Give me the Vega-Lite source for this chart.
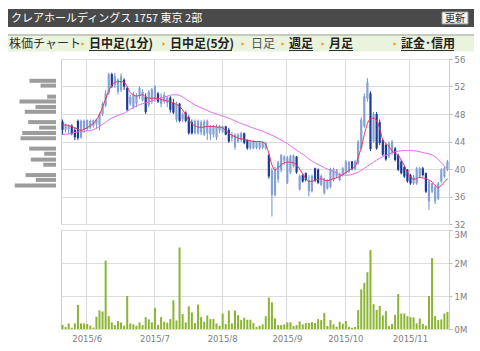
{
  "$schema": "https://vega.github.io/schema/vega-lite/v6.json",
  "background": "#ffffff",
  "padding": {"left": 7, "top": 9, "right": 0, "bottom": 0},
  "config": {
    "view": {"stroke": "#cccccc"},
    "axis": {"labelFont": "DejaVu Sans", "labelFontSize": 8.5, "labelColor": "#808080", "gridColor": "#dddddd", "domain": false, "ticks": false}
  },
  "datasets": {
    "px": [
      {"d":"2015-05-20","o":46.9,"h":47.2,"l":45.0,"c":45.7,"v":120000,"m5":46.4,"m25":45.0},
      {"d":"2015-05-21","o":45.7,"h":46.6,"l":45.3,"c":46.4,"v":60000,"m5":46.4,"m25":45.05},
      {"d":"2015-05-22","o":45.8,"h":46.5,"l":45.0,"c":46.3,"v":170000,"m5":46.3,"m25":45.1},
      {"d":"2015-05-25","o":46.3,"h":46.5,"l":44.9,"c":45.1,"v":40000,"m5":46.2,"m25":45.2},
      {"d":"2015-05-26","o":45.7,"h":46.0,"l":44.2,"c":44.6,"v":170000,"m5":46.0,"m25":45.3},
      {"d":"2015-05-27","o":47.0,"h":47.2,"l":44.2,"c":44.5,"v":730000,"m5":45.8,"m25":45.4},
      {"d":"2015-05-28","o":44.6,"h":47.2,"l":44.4,"c":47.0,"v":170000,"m5":45.6,"m25":45.45},
      {"d":"2015-05-29","o":45.7,"h":47.2,"l":45.3,"c":47.0,"v":170000,"m5":45.8,"m25":45.5},
      {"d":"2015-06-01","o":45.8,"h":47.2,"l":45.5,"c":47.1,"v":150000,"m5":46.0,"m25":45.55},
      {"d":"2015-06-02","o":46.0,"h":47.2,"l":45.8,"c":47.0,"v":100000,"m5":46.3,"m25":45.6},
      {"d":"2015-06-03","o":46.3,"h":47.2,"l":46.0,"c":47.1,"v":40000,"m5":46.6,"m25":45.7},
      {"d":"2015-06-04","o":46.5,"h":47.3,"l":45.8,"c":47.2,"v":370000,"m5":47.2,"m25":45.9},
      {"d":"2015-06-05","o":46.4,"h":48.2,"l":45.6,"c":48.0,"v":560000,"m5":47.9,"m25":46.2},
      {"d":"2015-06-08","o":48.0,"h":49.8,"l":47.7,"c":49.5,"v":530000,"m5":49.0,"m25":46.5},
      {"d":"2015-06-09","o":49.2,"h":51.5,"l":49.0,"c":51.0,"v":2070000,"m5":50.2,"m25":46.8},
      {"d":"2015-06-10","o":51.0,"h":54.0,"l":50.8,"c":53.8,"v":390000,"m5":51.3,"m25":47.15},
      {"d":"2015-06-11","o":53.8,"h":54.0,"l":51.8,"c":52.0,"v":200000,"m5":52.2,"m25":47.4},
      {"d":"2015-06-12","o":52.2,"h":54.0,"l":51.8,"c":53.5,"v":120000,"m5":52.6,"m25":47.6},
      {"d":"2015-06-15","o":51.2,"h":53.2,"l":50.8,"c":53.0,"v":240000,"m5":52.7,"m25":47.8},
      {"d":"2015-06-16","o":51.5,"h":53.9,"l":51.2,"c":53.5,"v":200000,"m5":52.7,"m25":48.0},
      {"d":"2015-06-17","o":53.0,"h":53.2,"l":51.5,"c":52.0,"v":100000,"m5":52.6,"m25":48.1},
      {"d":"2015-06-18","o":51.8,"h":52.0,"l":48.4,"c":48.6,"v":1000000,"m5":52.0,"m25":48.4},
      {"d":"2015-06-19","o":49.5,"h":50.8,"l":49.2,"c":50.5,"v":170000,"m5":51.1,"m25":48.7},
      {"d":"2015-06-22","o":49.0,"h":51.2,"l":48.8,"c":50.8,"v":140000,"m5":50.8,"m25":48.9},
      {"d":"2015-06-23","o":49.5,"h":51.0,"l":49.0,"c":50.6,"v":100000,"m5":50.6,"m25":49.2},
      {"d":"2015-06-24","o":50.6,"h":52.0,"l":50.2,"c":51.8,"v":200000,"m5":50.7,"m25":49.35},
      {"d":"2015-06-25","o":50.0,"h":51.6,"l":49.8,"c":51.2,"v":120000,"m5":50.8,"m25":49.5},
      {"d":"2015-06-26","o":50.5,"h":51.0,"l":48.0,"c":48.3,"v":360000,"m5":50.5,"m25":49.6},
      {"d":"2015-06-29","o":49.3,"h":51.5,"l":49.0,"c":51.2,"v":290000,"m5":50.3,"m25":49.75},
      {"d":"2015-06-30","o":49.8,"h":51.8,"l":49.5,"c":51.6,"v":200000,"m5":50.3,"m25":49.9},
      {"d":"2015-07-01","o":50.2,"h":52.2,"l":49.8,"c":52.0,"v":640000,"m5":50.3,"m25":50.05},
      {"d":"2015-07-02","o":51.0,"h":51.2,"l":49.6,"c":49.8,"v":120000,"m5":50.3,"m25":50.2},
      {"d":"2015-07-03","o":49.5,"h":51.0,"l":49.0,"c":50.5,"v":360000,"m5":50.1,"m25":50.3},
      {"d":"2015-07-06","o":49.8,"h":51.2,"l":49.5,"c":50.8,"v":220000,"m5":50.0,"m25":50.45},
      {"d":"2015-07-07","o":49.6,"h":50.6,"l":49.0,"c":50.4,"v":190000,"m5":49.9,"m25":50.6},
      {"d":"2015-07-08","o":50.4,"h":50.6,"l":48.2,"c":48.6,"v":300000,"m5":49.8,"m25":50.75},
      {"d":"2015-07-09","o":49.6,"h":50.2,"l":48.0,"c":48.2,"v":870000,"m5":49.6,"m25":50.8},
      {"d":"2015-07-10","o":47.2,"h":49.8,"l":46.8,"c":49.5,"v":260000,"m5":49.4,"m25":50.8},
      {"d":"2015-07-13","o":49.5,"h":49.6,"l":46.8,"c":47.0,"v":2470000,"m5":49.1,"m25":50.7},
      {"d":"2015-07-14","o":47.2,"h":48.2,"l":46.8,"c":48.0,"v":450000,"m5":48.6,"m25":50.5},
      {"d":"2015-07-15","o":48.2,"h":48.4,"l":46.8,"c":47.0,"v":200000,"m5":47.9,"m25":50.2},
      {"d":"2015-07-16","o":47.5,"h":47.8,"l":45.0,"c":45.2,"v":690000,"m5":47.1,"m25":49.9},
      {"d":"2015-07-17","o":46.8,"h":47.2,"l":45.0,"c":45.2,"v":500000,"m5":46.6,"m25":49.6},
      {"d":"2015-07-21","o":45.2,"h":47.2,"l":45.0,"c":47.0,"v":180000,"m5":46.3,"m25":49.3},
      {"d":"2015-07-22","o":45.2,"h":47.2,"l":45.0,"c":47.0,"v":740000,"m5":46.1,"m25":49.1},
      {"d":"2015-07-23","o":45.3,"h":47.1,"l":44.9,"c":46.8,"v":360000,"m5":46.05,"m25":48.9},
      {"d":"2015-07-24","o":45.0,"h":47.2,"l":44.8,"c":46.9,"v":220000,"m5":46.1,"m25":48.7},
      {"d":"2015-07-27","o":45.2,"h":47.2,"l":44.2,"c":47.0,"v":410000,"m5":46.2,"m25":48.5},
      {"d":"2015-07-28","o":45.0,"h":46.4,"l":44.2,"c":46.2,"v":300000,"m5":46.2,"m25":48.3},
      {"d":"2015-07-29","o":45.0,"h":46.4,"l":44.6,"c":46.3,"v":300000,"m5":46.2,"m25":48.15},
      {"d":"2015-07-30","o":44.6,"h":46.5,"l":44.2,"c":46.2,"v":170000,"m5":46.1,"m25":48.0},
      {"d":"2015-07-31","o":45.6,"h":46.4,"l":45.2,"c":46.2,"v":100000,"m5":46.1,"m25":47.85},
      {"d":"2015-08-03","o":45.4,"h":46.3,"l":45.2,"c":46.2,"v":470000,"m5":46.0,"m25":47.7},
      {"d":"2015-08-04","o":46.2,"h":46.3,"l":44.9,"c":45.0,"v":150000,"m5":45.6,"m25":47.55},
      {"d":"2015-08-05","o":45.7,"h":46.0,"l":43.8,"c":44.0,"v":560000,"m5":45.2,"m25":47.4},
      {"d":"2015-08-06","o":44.5,"h":45.4,"l":44.0,"c":45.0,"v":170000,"m5":44.9,"m25":47.2},
      {"d":"2015-08-07","o":43.2,"h":45.2,"l":42.8,"c":45.0,"v":560000,"m5":44.7,"m25":47.0},
      {"d":"2015-08-10","o":44.0,"h":45.2,"l":43.8,"c":45.0,"v":420000,"m5":44.5,"m25":46.8},
      {"d":"2015-08-11","o":44.2,"h":45.4,"l":43.9,"c":45.2,"v":270000,"m5":44.4,"m25":46.6},
      {"d":"2015-08-12","o":45.2,"h":45.3,"l":43.6,"c":43.8,"v":340000,"m5":44.3,"m25":46.45},
      {"d":"2015-08-13","o":44.2,"h":44.3,"l":42.8,"c":43.0,"v":280000,"m5":44.2,"m25":46.3},
      {"d":"2015-08-14","o":43.0,"h":44.2,"l":42.8,"c":44.0,"v":280000,"m5":44.1,"m25":46.1},
      {"d":"2015-08-17","o":43.0,"h":44.2,"l":42.9,"c":44.0,"v":180000,"m5":44.0,"m25":45.95},
      {"d":"2015-08-18","o":43.1,"h":44.0,"l":42.9,"c":43.9,"v":60000,"m5":44.0,"m25":45.8},
      {"d":"2015-08-19","o":43.0,"h":44.0,"l":42.8,"c":43.9,"v":100000,"m5":44.0,"m25":45.65},
      {"d":"2015-08-20","o":43.1,"h":44.0,"l":42.9,"c":43.9,"v":140000,"m5":43.9,"m25":45.5},
      {"d":"2015-08-21","o":43.0,"h":43.9,"l":42.8,"c":43.8,"v":390000,"m5":43.5,"m25":45.3},
      {"d":"2015-08-24","o":42.0,"h":42.2,"l":38.6,"c":38.9,"v":950000,"m5":42.3,"m25":45.1},
      {"d":"2015-08-25","o":36.2,"h":40.2,"l":33.1,"c":39.8,"v":810000,"m5":40.6,"m25":44.9},
      {"d":"2015-08-26","o":36.2,"h":40.3,"l":36.0,"c":40.0,"v":320000,"m5":39.9,"m25":44.7},
      {"d":"2015-08-27","o":38.5,"h":41.2,"l":38.0,"c":41.0,"v":120000,"m5":40.2,"m25":44.45},
      {"d":"2015-08-28","o":39.8,"h":42.2,"l":39.5,"c":42.0,"v":120000,"m5":40.6,"m25":44.2},
      {"d":"2015-08-31","o":41.2,"h":42.0,"l":40.6,"c":41.8,"v":140000,"m5":40.9,"m25":43.95},
      {"d":"2015-09-01","o":38.0,"h":41.9,"l":37.8,"c":41.6,"v":200000,"m5":41.0,"m25":43.7},
      {"d":"2015-09-02","o":39.5,"h":42.1,"l":39.3,"c":41.9,"v":200000,"m5":41.0,"m25":43.4},
      {"d":"2015-09-03","o":40.4,"h":42.1,"l":40.2,"c":42.0,"v":90000,"m5":40.9,"m25":43.05},
      {"d":"2015-09-04","o":41.8,"h":41.9,"l":39.3,"c":39.5,"v":120000,"m5":40.6,"m25":42.75},
      {"d":"2015-09-07","o":37.0,"h":39.2,"l":36.9,"c":39.0,"v":230000,"m5":40.0,"m25":42.45},
      {"d":"2015-09-08","o":39.1,"h":39.3,"l":38.0,"c":38.2,"v":140000,"m5":39.3,"m25":42.15},
      {"d":"2015-09-09","o":39.4,"h":39.5,"l":38.2,"c":38.4,"v":180000,"m5":38.6,"m25":41.85},
      {"d":"2015-09-10","o":36.8,"h":39.1,"l":36.0,"c":38.4,"v":180000,"m5":38.2,"m25":41.45},
      {"d":"2015-09-11","o":36.8,"h":39.2,"l":36.6,"c":39.0,"v":210000,"m5":38.2,"m25":41.15},
      {"d":"2015-09-14","o":40.1,"h":40.2,"l":38.1,"c":38.3,"v":180000,"m5":38.4,"m25":40.9},
      {"d":"2015-09-15","o":39.9,"h":40.1,"l":37.8,"c":38.0,"v":300000,"m5":38.5,"m25":40.65},
      {"d":"2015-09-16","o":37.7,"h":39.2,"l":37.5,"c":39.0,"v":270000,"m5":38.6,"m25":40.45},
      {"d":"2015-09-17","o":36.5,"h":38.7,"l":36.3,"c":38.5,"v":490000,"m5":38.4,"m25":40.2},
      {"d":"2015-09-18","o":37.2,"h":38.5,"l":37.0,"c":38.3,"v":90000,"m5":38.3,"m25":40.0},
      {"d":"2015-09-24","o":37.4,"h":40.2,"l":37.2,"c":40.0,"v":270000,"m5":38.4,"m25":39.8},
      {"d":"2015-09-25","o":38.4,"h":40.2,"l":38.2,"c":40.0,"v":140000,"m5":38.6,"m25":39.6},
      {"d":"2015-09-28","o":38.9,"h":40.0,"l":38.7,"c":39.8,"v":70000,"m5":38.7,"m25":39.4},
      {"d":"2015-09-29","o":38.4,"h":39.5,"l":38.2,"c":39.3,"v":220000,"m5":38.9,"m25":39.2},
      {"d":"2015-09-30","o":39.1,"h":40.3,"l":38.9,"c":40.1,"v":160000,"m5":39.2,"m25":39.15},
      {"d":"2015-10-01","o":39.4,"h":41.3,"l":39.2,"c":41.1,"v":240000,"m5":39.5,"m25":39.1},
      {"d":"2015-10-02","o":39.6,"h":41.2,"l":39.4,"c":41.0,"v":60000,"m5":39.8,"m25":39.1},
      {"d":"2015-10-05","o":41.1,"h":41.2,"l":39.8,"c":40.0,"v":40000,"m5":40.1,"m25":39.2},
      {"d":"2015-10-06","o":40.0,"h":41.3,"l":39.8,"c":41.1,"v":60000,"m5":40.3,"m25":39.35},
      {"d":"2015-10-07","o":40.8,"h":44.2,"l":40.6,"c":44.0,"v":580000,"m5":41.7,"m25":39.55},
      {"d":"2015-10-08","o":43.0,"h":47.5,"l":42.8,"c":47.2,"v":1200000,"m5":43.1,"m25":39.8},
      {"d":"2015-10-09","o":46.2,"h":51.0,"l":46.0,"c":50.6,"v":1400000,"m5":45.0,"m25":40.1},
      {"d":"2015-10-13","o":50.2,"h":53.2,"l":49.8,"c":52.6,"v":1720000,"m5":46.6,"m25":40.4},
      {"d":"2015-10-14","o":51.0,"h":51.3,"l":42.6,"c":42.9,"v":2390000,"m5":47.3,"m25":40.7},
      {"d":"2015-10-15","o":44.0,"h":48.3,"l":43.8,"c":48.0,"v":750000,"m5":47.4,"m25":41.0},
      {"d":"2015-10-16","o":48.0,"h":48.3,"l":42.8,"c":43.0,"v":580000,"m5":47.0,"m25":41.3},
      {"d":"2015-10-19","o":46.8,"h":47.2,"l":43.5,"c":43.8,"v":700000,"m5":45.9,"m25":41.55},
      {"d":"2015-10-20","o":44.2,"h":44.4,"l":41.9,"c":42.1,"v":410000,"m5":44.2,"m25":41.8},
      {"d":"2015-10-21","o":43.5,"h":43.7,"l":41.2,"c":41.4,"v":540000,"m5":43.7,"m25":42.0},
      {"d":"2015-10-22","o":41.8,"h":44.0,"l":41.6,"c":43.7,"v":90000,"m5":43.3,"m25":42.2},
      {"d":"2015-10-23","o":42.3,"h":44.2,"l":42.1,"c":44.0,"v":150000,"m5":42.6,"m25":42.35},
      {"d":"2015-10-26","o":43.0,"h":43.2,"l":41.1,"c":41.3,"v":430000,"m5":42.3,"m25":42.5},
      {"d":"2015-10-27","o":42.0,"h":42.2,"l":39.7,"c":39.9,"v":1060000,"m5":42.0,"m25":42.6},
      {"d":"2015-10-28","o":41.1,"h":41.3,"l":39.2,"c":39.4,"v":470000,"m5":41.3,"m25":42.65},
      {"d":"2015-10-29","o":40.3,"h":40.5,"l":38.7,"c":38.9,"v":470000,"m5":40.5,"m25":42.7},
      {"d":"2015-10-30","o":39.9,"h":40.0,"l":38.0,"c":38.2,"v":390000,"m5":39.5,"m25":42.7},
      {"d":"2015-11-02","o":39.1,"h":39.3,"l":37.7,"c":37.9,"v":360000,"m5":38.9,"m25":42.7},
      {"d":"2015-11-04","o":37.9,"h":39.1,"l":37.7,"c":38.9,"v":350000,"m5":38.5,"m25":42.65},
      {"d":"2015-11-05","o":37.9,"h":40.3,"l":37.7,"c":40.1,"v":170000,"m5":38.6,"m25":42.6},
      {"d":"2015-11-06","o":38.9,"h":40.3,"l":38.7,"c":40.1,"v":320000,"m5":38.8,"m25":42.5},
      {"d":"2015-11-09","o":40.1,"h":40.3,"l":38.9,"c":39.1,"v":150000,"m5":38.7,"m25":42.4},
      {"d":"2015-11-10","o":39.4,"h":39.5,"l":36.5,"c":36.7,"v":100000,"m5":38.6,"m25":42.3},
      {"d":"2015-11-11","o":35.3,"h":38.4,"l":34.0,"c":38.2,"v":1000000,"m5":38.4,"m25":42.2},
      {"d":"2015-11-12","o":36.7,"h":38.0,"l":36.5,"c":37.9,"v":2150000,"m5":38.1,"m25":42.05},
      {"d":"2015-11-13","o":35.3,"h":37.6,"l":34.9,"c":37.4,"v":390000,"m5":37.6,"m25":41.8},
      {"d":"2015-11-16","o":35.7,"h":38.1,"l":35.5,"c":37.9,"v":270000,"m5":37.3,"m25":41.4},
      {"d":"2015-11-17","o":38.2,"h":40.1,"l":38.0,"c":39.9,"v":290000,"m5":37.6,"m25":40.9},
      {"d":"2015-11-18","o":38.9,"h":40.3,"l":38.7,"c":40.1,"v":470000,"m5":38.1,"m25":40.4},
      {"d":"2015-11-19","o":39.9,"h":41.3,"l":39.7,"c":41.1,"v":520000,"m5":38.6,"m25":40.1}
    ],
    "hist": [
      {"p":53.4,"q":265},{"p":52.65,"q":155},{"p":50.95,"q":88},{"p":50.2,"q":365},
      {"p":49.35,"q":205},{"p":48.6,"q":312},{"p":47.0,"q":278},{"p":46.15,"q":168},
      {"p":45.3,"q":338},{"p":44.5,"q":355},{"p":42.9,"q":268},{"p":42.1,"q":118},
      {"p":41.2,"q":252},{"p":40.4,"q":128},{"p":38.8,"q":305},{"p":38.05,"q":202},
      {"p":37.2,"q":412}
    ]
  },
  "vconcat": [
    {
      "width": 466, "height": 18,
      "view": {"fill": "#4a4a4a", "stroke": null},
      "data": {"values": [{}]},
      "layer": [
        {"mark": {"type": "text", "text": "クレアホールディングス 1757 東京 2部", "font": "Noto Sans CJK JP", "fontSize": 11, "color": "#ffffff", "align": "left", "baseline": "middle"},
         "encoding": {"x": {"value": 3}, "y": {"value": 9.5}}},
        {"mark": {"type": "rect", "fill": "#f5f5f5", "stroke": "#999999", "strokeWidth": 1},
         "encoding": {"x": {"value": 434}, "x2": {"value": 460}, "y": {"value": 3}, "y2": {"value": 15}}},
        {"mark": {"type": "text", "text": "更新", "font": "Noto Sans CJK JP", "fontSize": 10, "color": "#222222", "align": "center", "baseline": "middle"},
         "encoding": {"x": {"value": 447}, "y": {"value": 9.5}}}
      ]
    },
    {
      "width": 466, "height": 17,
      "view": {"fill": "#eaf3dd", "stroke": null},
      "data": {"values": [{}]},
      "layer": [
        {"mark": {"type": "rule", "color": "#c4cbbd", "strokeWidth": 2}, "encoding": {"x": {"value": 0}, "x2": {"value": 466}, "y": {"value": 0.5}}},
        {"mark": {"type": "text", "text": "株価チャート", "font": "Noto Sans CJK JP", "fontSize": 12, "color": "#333333", "align": "left", "baseline": "middle"}, "encoding": {"x": {"value": 1}, "y": {"value": 9.5}}},
        {"mark": {"type": "point", "shape": "triangle-right", "filled": true, "size": 14, "color": "#f29b1d", "opacity": 1}, "encoding": {"x": {"value": 75}, "y": {"value": 9.5}}},
        {"mark": {"type": "point", "shape": "triangle-right", "filled": true, "size": 14, "color": "#f29b1d", "opacity": 1}, "encoding": {"x": {"value": 156}, "y": {"value": 9.5}}},
        {"mark": {"type": "point", "shape": "triangle-right", "filled": true, "size": 14, "color": "#f29b1d", "opacity": 1}, "encoding": {"x": {"value": 235}, "y": {"value": 9.5}}},
        {"mark": {"type": "point", "shape": "triangle-right", "filled": true, "size": 14, "color": "#f29b1d", "opacity": 1}, "encoding": {"x": {"value": 275}, "y": {"value": 9.5}}},
        {"mark": {"type": "point", "shape": "triangle-right", "filled": true, "size": 14, "color": "#f29b1d", "opacity": 1}, "encoding": {"x": {"value": 315}, "y": {"value": 9.5}}},
        {"mark": {"type": "point", "shape": "triangle-right", "filled": true, "size": 14, "color": "#f29b1d", "opacity": 1}, "encoding": {"x": {"value": 387}, "y": {"value": 9.5}}},
        {"mark": {"type": "text", "text": "日中足(1分)", "font": "Noto Sans CJK JP", "fontSize": 12, "fontWeight": "bold", "color": "#222222", "align": "left", "baseline": "middle"}, "encoding": {"x": {"value": 81}, "y": {"value": 9.5}}},
        {"mark": {"type": "text", "text": "日中足(5分)", "font": "Noto Sans CJK JP", "fontSize": 12, "fontWeight": "bold", "color": "#222222", "align": "left", "baseline": "middle"}, "encoding": {"x": {"value": 162}, "y": {"value": 9.5}}},
        {"mark": {"type": "text", "text": "日足", "font": "Noto Sans CJK JP", "fontSize": 12, "color": "#555555", "align": "left", "baseline": "middle"}, "encoding": {"x": {"value": 243}, "y": {"value": 9.5}}},
        {"mark": {"type": "text", "text": "週足", "font": "Noto Sans CJK JP", "fontSize": 12, "fontWeight": "bold", "color": "#222222", "align": "left", "baseline": "middle"}, "encoding": {"x": {"value": 281}, "y": {"value": 9.5}}},
        {"mark": {"type": "text", "text": "月足", "font": "Noto Sans CJK JP", "fontSize": 12, "fontWeight": "bold", "color": "#222222", "align": "left", "baseline": "middle"}, "encoding": {"x": {"value": 321}, "y": {"value": 9.5}}},
        {"mark": {"type": "text", "text": "証金･信用", "font": "Noto Sans CJK JP", "fontSize": 12, "fontWeight": "bold", "color": "#222222", "align": "left", "baseline": "middle"}, "encoding": {"x": {"value": 393}, "y": {"value": 9.5}}},
        {"mark": {"type": "rule", "color": "#333333", "strokeWidth": 1}, "encoding": {"x": {"value": 81}, "x2": {"value": 143}, "y": {"value": 16}}},
        {"mark": {"type": "rule", "color": "#333333", "strokeWidth": 1}, "encoding": {"x": {"value": 162}, "x2": {"value": 224}, "y": {"value": 16}}},
        {"mark": {"type": "rule", "color": "#333333", "strokeWidth": 1}, "encoding": {"x": {"value": 281}, "x2": {"value": 305}, "y": {"value": 16}}},
        {"mark": {"type": "rule", "color": "#333333", "strokeWidth": 1}, "encoding": {"x": {"value": 321}, "x2": {"value": 345}, "y": {"value": 16}}},
        {"mark": {"type": "rule", "color": "#333333", "strokeWidth": 1}, "encoding": {"x": {"value": 393}, "x2": {"value": 446}, "y": {"value": 16}}}
      ]
    },
    {
      "hconcat": [
        {
          "width": 48, "height": 165,
          "view": {"stroke": null},
          "data": {"name": "hist"},
          "mark": {"type": "bar", "orient": "horizontal", "size": 4, "color": "#9c9c9c"},
          "encoding": {
            "y": {"field": "p", "type": "quantitative", "scale": {"domain": [32, 56], "zero": false, "nice": false}, "axis": null},
            "x": {"field": "q", "type": "quantitative", "scale": {"domain": [0, 480], "reverse": true, "nice": false}, "axis": null}
          }
        },
        {
          "vconcat": [
            {
              "width": 388, "height": 165,
              "data": {"name": "px"},
              "layer": [
                {
                  "mark": {"type": "rule", "strokeWidth": 1},
                  "encoding": {
                    "x": {"field": "d", "type": "ordinal", "scale": {"paddingInner": 0, "paddingOuter": 0},
                          "axis": {"values": ["2015-06-01","2015-07-01","2015-08-03","2015-09-01","2015-10-01","2015-11-02"], "labels": false, "grid": true, "bandPosition": 0.3, "title": null}},
                    "y": {"field": "l", "type": "quantitative", "scale": {"domain": [32, 56], "zero": false, "nice": false},
                          "axis": {"orient": "right", "values": [32,36,40,44,48,52,56], "grid": true, "ticks": true, "tickSize": 3, "tickColor": "#bbbbbb", "labelPadding": 2, "labelOverlap": false, "title": null}},
                    "y2": {"field": "h"},
                    "color": {"condition": {"test": "datum.c >= datum.o", "value": "#7290c6"}, "value": "#1c3a96"}
                  }
                },
                {
                  "mark": {"type": "bar", "size": 2.2},
                  "encoding": {
                    "x": {"field": "d", "type": "ordinal"},
                    "y": {"field": "o", "type": "quantitative", "scale": {"domain": [32, 56], "zero": false, "nice": false},
                          "axis": {"orient": "right", "values": [32,36,40,44,48,52,56], "grid": true, "ticks": true, "tickSize": 3, "tickColor": "#bbbbbb", "labelPadding": 2, "labelOverlap": false, "title": null}},
                    "y2": {"field": "c"},
                    "color": {"condition": {"test": "datum.c >= datum.o", "value": "#86a2d2"}, "value": "#1c3a96"}
                  }
                },
                {
                  "mark": {"type": "line", "color": "#e36cf2", "strokeWidth": 1, "interpolate": "monotone"},
                  "encoding": {
                    "x": {"field": "d", "type": "ordinal"},
                    "y": {"field": "m25", "type": "quantitative", "scale": {"domain": [32, 56], "zero": false, "nice": false},
                          "axis": {"orient": "right", "values": [32,36,40,44,48,52,56], "grid": true, "ticks": true, "tickSize": 3, "tickColor": "#bbbbbb", "labelPadding": 2, "labelOverlap": false, "title": null}}
                  }
                },
                {
                  "mark": {"type": "line", "color": "#e8365a", "strokeWidth": 1, "interpolate": "monotone"},
                  "encoding": {
                    "x": {"field": "d", "type": "ordinal"},
                    "y": {"field": "m5", "type": "quantitative", "scale": {"domain": [32, 56], "zero": false, "nice": false},
                          "axis": {"orient": "right", "values": [32,36,40,44,48,52,56], "grid": true, "ticks": true, "tickSize": 3, "tickColor": "#bbbbbb", "labelPadding": 2, "labelOverlap": false, "title": null}}
                  }
                }
              ]
            },
            {
              "width": 388, "height": 99,
              "data": {"name": "px"},
              "mark": {"type": "bar", "size": 2, "color": "#8ab532"},
              "encoding": {
                "x": {"field": "d", "type": "ordinal", "scale": {"paddingInner": 0, "paddingOuter": 0},
                      "axis": {"values": ["2015-06-01","2015-07-01","2015-08-03","2015-09-01","2015-10-01","2015-11-02"],
                               "labelExpr": "slice(datum.value,0,4) + '/' + toNumber(slice(datum.value,5,7))",
                               "grid": true, "bandPosition": 0.3, "labelAngle": 0, "labelAlign": "center", "labelBaseline": "top", "labelPadding": 5, "labelOverlap": false, "title": null}},
                "y": {"field": "v", "type": "quantitative", "scale": {"domain": [0, 3000000], "nice": false},
                      "axis": {"orient": "right", "values": [0, 1000000, 2000000, 3000000], "labelExpr": "datum.value / 1000000 + 'M'",
                               "labelBaseline": {"condition": {"test": "datum.value == 3000000", "value": "top"}, "value": "middle"},
                               "labelOverlap": false, "grid": true, "ticks": true, "tickSize": 3, "tickColor": "#bbbbbb", "labelPadding": 2, "title": null}}
              }
            }
          ],
          "spacing": 6,
          "bounds": "flush"
        }
      ],
      "spacing": 5,
      "bounds": "flush"
    }
  ],
  "spacing": 7.5,
  "bounds": "flush"
}
